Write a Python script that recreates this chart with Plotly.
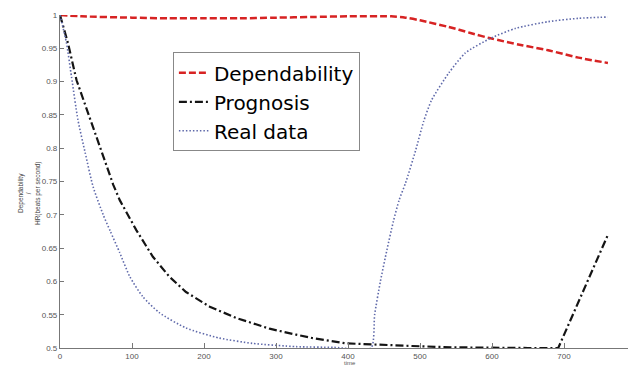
import plotly.graph_objects as go

# ---- data ----
dep_x = [0, 30, 100, 150, 200, 250, 300, 350, 400, 460, 480, 500, 540, 570, 598, 640, 678, 720, 761]
dep_y = [1.0, 0.998, 0.996, 0.995, 0.995, 0.995, 0.996, 0.997, 0.998, 0.998, 0.996, 0.992, 0.982, 0.973, 0.965, 0.955, 0.947, 0.936, 0.928]

prog_x = [0, 11, 23, 44, 60, 74, 83, 106, 129, 152, 175, 208, 245, 291, 328, 350, 397, 433, 489, 544, 600, 650, 692, 761]
prog_y = [1.0, 0.958, 0.902, 0.838, 0.787, 0.745, 0.722, 0.677, 0.637, 0.607, 0.584, 0.562, 0.545, 0.529, 0.52, 0.515, 0.507, 0.505, 0.503, 0.501, 0.5, 0.5, 0.5, 0.67]

real_x = [0, 9, 16, 25, 35, 46, 60, 70, 83, 97, 115, 138, 175, 221, 267, 328, 380, 432, 437, 445, 454, 463, 471, 480, 494, 505, 516, 540, 563, 598, 633, 678, 720, 761]
real_y = [1.0, 0.958, 0.907, 0.842, 0.793, 0.742, 0.70, 0.675, 0.643, 0.607, 0.577, 0.553, 0.53, 0.515, 0.507, 0.502, 0.501, 0.5, 0.55, 0.60, 0.647, 0.69, 0.722, 0.748, 0.797, 0.84, 0.872, 0.913, 0.943, 0.965, 0.98, 0.99, 0.995, 0.997]

series_names = ["Dependability", "Prognosis", "Real data"]
x_ticks = [0, 100, 200, 300, 400, 500, 600, 700, 800]
y_ticks = [0.5, 0.55, 0.6, 0.65, 0.7, 0.75, 0.8, 0.85, 0.9, 0.95, 1.0]
y_ticktext = ["0.5", "0.55", "0.6", "0.65", "0.7", "0.75", "0.8", "0.85", "0.9", "0.95", "1"]
x_title = "time"
y_title = "Dependability<br>/<br>HR(beats per second)"

fig = go.Figure()
fig.add_trace(go.Scatter(x=dep_x, y=dep_y, mode="lines", name=series_names[0],
                         line=dict(color="rgb(215,35,35)", width=2.5, dash="7px,3px",
                                   shape="spline", smoothing=0.8)))
fig.add_trace(go.Scatter(x=prog_x, y=prog_y, mode="lines", name=series_names[1],
                         line=dict(color="rgb(20,20,20)", width=2.2, dash="8px,3px,2px,3px")))
fig.add_trace(go.Scatter(x=real_x, y=real_y, mode="lines", name=series_names[2],
                         line=dict(color="rgb(95,105,170)", width=1.6, dash="1.5px,2px",
                                   shape="spline", smoothing=0.6)))

axis_common = dict(showgrid=False, zeroline=False, showline=True, linecolor="#777", linewidth=1.2,
                   ticks="inside", tickcolor="#777", tickwidth=1, automargin=False,
                   tickfont=dict(family="Liberation Sans, Arial", size=8, color="#555"))

fig.update_xaxes(range=[0, 800], tickvals=x_ticks, ticklen=5, **axis_common)
fig.update_yaxes(range=[0.5, 1.0], tickvals=y_ticks, ticktext=y_ticktext, ticklen=4, **axis_common)

fig.add_annotation(text=x_title, xref="paper", yref="paper", x=0.503, y=-0.044,
                   showarrow=False, xanchor="center", yanchor="middle",
                   font=dict(family="Liberation Sans, Arial", size=6, color="#555"))
fig.add_annotation(text=y_title, xref="paper", yref="paper", x=-0.054, y=0.465,
                   showarrow=False, textangle=-90, xanchor="center", yanchor="middle",
                   font=dict(family="Liberation Sans, Arial", size=6.5, color="#444"))

# the page body has an 8px default margin, so the figure is sized to fill the rest of the window
fig.update_layout(
    width=628, height=359,
    margin=dict(l=52, r=0, t=7, b=19, autoexpand=False),
    plot_bgcolor="white", paper_bgcolor="white",
    legend=dict(x=0.196, y=0.888, xanchor="left", yanchor="top",
                bgcolor="white", bordercolor="#888", borderwidth=1,
                font=dict(family="DejaVu Sans", size=20, color="black"),
                itemwidth=30),
)

fig.write_html("out.html")
